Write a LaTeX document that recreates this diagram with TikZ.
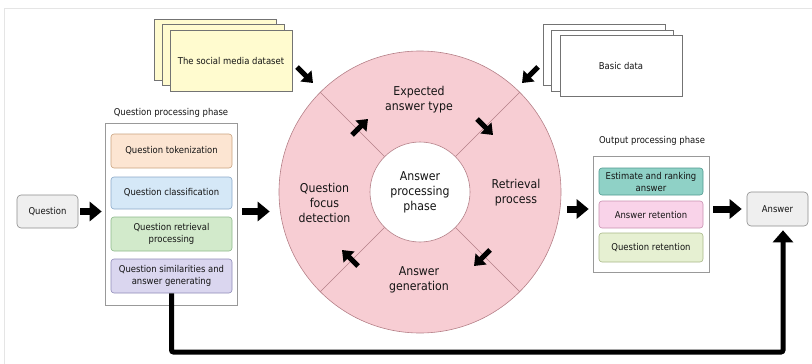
\documentclass[tikz,border=0pt]{standalone}
\usepackage{fontspec}
\setmainfont{DejaVu Sans}[FakeStretch=0.9]
\usetikzlibrary{arrows.meta,calc}
\definecolor{tokfill}{HTML}{FCE5D2}\definecolor{tokdraw}{HTML}{C9A27E}
\definecolor{clsfill}{HTML}{D5E8F7}\definecolor{clsdraw}{HTML}{8AA8C8}
\definecolor{retfill}{HTML}{D2EACB}\definecolor{retdraw}{HTML}{8DB88A}
\definecolor{simfill}{HTML}{DAD6EF}\definecolor{simdraw}{HTML}{8F8AB8}
\definecolor{estfill}{HTML}{8FD1C6}\definecolor{estdraw}{HTML}{4F9A90}
\definecolor{arfill}{HTML}{F9D3E9}\definecolor{ardraw}{HTML}{C890B0}
\definecolor{qrfill}{HTML}{E6F0D2}\definecolor{qrdraw}{HTML}{A8B888}
\definecolor{pinkfill}{HTML}{F7CDD3}\definecolor{pinkdraw}{HTML}{B58088}
\definecolor{yel}{HTML}{FFFBCF}
\definecolor{qfill}{HTML}{EFEFEF}
\definecolor{ink}{HTML}{141414}
\begin{document}
\begin{tikzpicture}[x=1pt,y=-1pt,
  txt/.style={font=\fontsize{9.4}{12}\selectfont, text=ink},
  stage/.style={rounded corners=3pt, line width=0.6pt, minimum width=121pt, align=center, txt, inner sep=1pt},
  sheet/.style={draw=black!55, line width=0.6pt, minimum width=122pt, minimum height=61pt, txt},
  bigarrow/.style={line width=7pt, -{Triangle[length=12pt,width=19pt]}},
  smallarrow/.style={line width=5pt, -{Triangle[length=10pt,width=15pt]}},
  connarrow/.style={line width=5pt, rounded corners=2pt, -{Triangle[length=12pt,width=20pt]}},
  circtxt/.style={font=\fontsize{12.2}{15}\selectfont, align=center, text=ink},
  endbox/.style={draw=black!45, fill=qfill, rounded corners=4pt, minimum width=61pt, minimum height=33pt, line width=0.6pt, txt}
]
\useasboundingbox (0,0) rectangle (812,364);
\draw[black!10] (4,364) -- (4,8) -- (812,8);

% social media dataset stack
\node[sheet, fill=yel] (smd3) at (215,49.5) {};
\node[sheet, fill=yel] (smd2) at (223,55) {};
\node[sheet, fill=yel] (smd) at (231,60.5) {The social media dataset};

% basic data stack
\node[sheet, fill=white] (bd3) at (604,55) {};
\node[sheet, fill=white] (bd2) at (612,60.5) {};
\node[sheet, fill=white] (bd) at (621,66) {Basic data};

% question
\node[endbox] (q) at (47.5,211.5) {Question};

% question processing phase
\node[draw=black!40, line width=0.6pt, minimum width=132pt, minimum height=182pt] (qpp) at (171,214) {};
\node[txt] (qppl) at (171,113) {Question processing phase};
\node[stage, draw=tokdraw, fill=tokfill, minimum height=34pt] (tok) at (171.5,151) {Question tokenization};
\node[stage, draw=clsdraw, fill=clsfill, minimum height=32pt] (cls) at (171.5,193) {Question classification};
\node[stage, draw=retdraw, fill=retfill, minimum height=34pt] (ret) at (171.5,234) {Question retrieval\\processing};
\node[stage, draw=simdraw, fill=simfill, minimum height=34pt] (sim) at (171.5,276) {Question similarities and\\answer generating};

% circle
\node[circle, draw=pinkdraw, fill=pinkfill, line width=0.6pt, minimum size=282pt] (outer) at (420,192) {};
\node[circle, draw=pinkdraw, fill=white, line width=0.6pt, minimum size=100pt, circtxt] (inner) at (420,192) {Answer\\processing\\phase};
\foreach \a in {45,135,225,315} \draw[pinkdraw, line width=0.6pt] (inner.\a) -- (outer.\a);
\node[circtxt] (eat) at (419,99.5) {Expected\\answer type};
\node[circtxt] (rp) at (516,192.5) {Retrieval\\process};
\node[circtxt] (ag) at (419,279.5) {Answer\\generation};
\node[circtxt] (qfd) at (324.5,203) {Question\\focus\\detection};

% output processing phase
\node[draw=black!40, line width=0.6pt, minimum width=116pt, minimum height=116pt] (out) at (651,214) {};
\node[txt] (outl) at (652,141) {Output processing phase};
\node[stage, draw=estdraw, fill=estfill, minimum width=104pt, minimum height=27pt] (est) at (651,181.5) {Estimate and ranking\\answer};
\node[stage, draw=ardraw, fill=arfill, minimum width=104pt, minimum height=27pt] (ar) at (651,214.5) {Answer retention};
\node[stage, draw=qrdraw, fill=qrfill, minimum width=104pt, minimum height=29pt] (qr) at (651,247.5) {Question retention};

% answer
\node[endbox, minimum height=34pt] (ans) at (777.5,209) {Answer};

% horizontal arrows
\draw[bigarrow, shorten <=2pt, shorten >=3pt] (q.east) -- (q.east -| qpp.west);
\draw[bigarrow, shorten <=5pt, shorten >=9pt] (qpp.east |- q.east) -- (outer.west |- q.east);
\draw[bigarrow, shorten <=6pt, shorten >=4pt] (outer.east |- ans.west) -- (out.west |- ans.west);
\draw[bigarrow, shorten <=4pt, shorten >=5pt] (out.east |- ans.west) -- (ans.west);

% diagonal arrows
\coordinate (s1) at (297,67); \coordinate (s2) at (313,83);
\coordinate (b1) at (538,67); \coordinate (b2) at (522,83);
\coordinate (i1) at (352,135); \coordinate (i2) at (368,119);
\coordinate (i3) at (477,119); \coordinate (i4) at (493,135);
\coordinate (i5) at (490,250); \coordinate (i6) at (474,266);
\coordinate (i7) at (358,266); \coordinate (i8) at (342,250);
\draw[smallarrow] (s1) -- (s2);
\draw[smallarrow] (b1) -- (b2);
\draw[smallarrow] (i1) -- (i2);
\draw[smallarrow] (i3) -- (i4);
\draw[smallarrow] (i5) -- (i6);
\draw[smallarrow] (i7) -- (i8);

% bottom connector
\coordinate (bot) at (0,352);
\coordinate (bx) at (783,0);
\draw[connarrow, shorten >=4pt] (sim.south) -- (sim.south |- bot) -| (ans.south -| bx);
\end{tikzpicture}
\end{document}
